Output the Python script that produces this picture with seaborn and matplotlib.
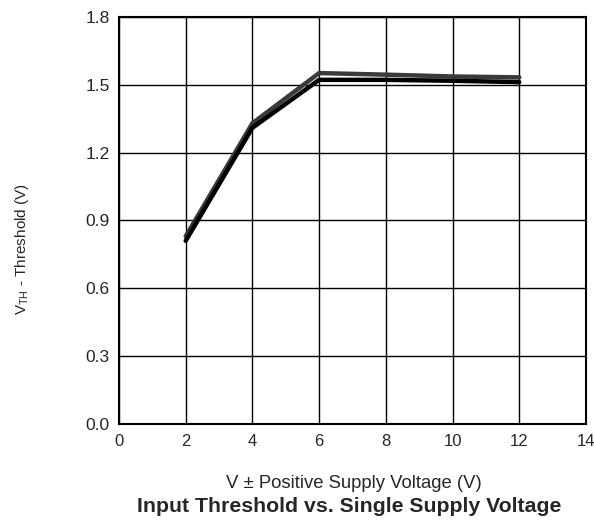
import matplotlib
matplotlib.use("Agg")
import matplotlib.pyplot as plt
import seaborn as sns
import pandas as pd

supply_v = [2, 4, 6, 8, 10, 12]
thresh_a = [0.83, 1.33, 1.552, 1.545, 1.537, 1.533]
thresh_b = [0.81, 1.31, 1.522, 1.522, 1.518, 1.512]
series_names = ["A", "B"]
x_ticks = [0, 2, 4, 6, 8, 10, 12, 14]
y_ticks = [0.0, 0.3, 0.6, 0.9, 1.2, 1.5, 1.8]

df = pd.DataFrame({
    "x": supply_v * 2,
    "y": thresh_a + thresh_b,
    "s": [series_names[0]] * len(supply_v) + [series_names[1]] * len(supply_v),
})

sns.set_style("white")
plt.rcParams["font.family"] = ["Liberation Sans", "DejaVu Sans"]

fig = plt.figure(figsize=(5.94, 5.23), dpi=100)
ax = fig.add_axes([0.2003, 0.1893, 0.7862, 0.7782])

sns.lineplot(data=df, x="x", y="y", hue="s", palette=["#3a3a3a", "#000000"],
             linewidth=3.2, legend=False, ax=ax, solid_capstyle="round")

ax.set_xlim(0, 14)
ax.set_ylim(0, 1.8)
ax.set_xticks(x_ticks)
ax.set_yticks(y_ticks)
ax.set_xticklabels([str(t) for t in x_ticks], fontsize=12)
ax.set_yticklabels([f"{t:.1f}" for t in y_ticks], fontsize=12.5)
ax.tick_params(axis="x", length=0, pad=7.5)
ax.tick_params(axis="y", length=0, pad=6.5)
ax.grid(True, color="black", linewidth=1.0)
ax.set_axisbelow(True)
for sp in ax.spines.values():
    sp.set_visible(True)
    sp.set_color("black")
    sp.set_linewidth(1.5)

ax.set_xlabel("V ± Positive Supply Voltage (V)", fontsize=13.3)
ax.set_ylabel("V$_{\\mathregular{TH}}$ - Threshold (V)", fontsize=11)
ax.xaxis.label.set_va("center")
ax.yaxis.label.set_va("center")
ax.xaxis.set_label_coords(0.503, -0.145)
ax.yaxis.set_label_coords(-0.208, 0.43)
fig.text(0.588, 0.0306, "Input Threshold vs. Single Supply Voltage",
         ha="center", va="center", fontsize=15.3, fontweight="bold")

fig.savefig("out.png", dpi=100)
